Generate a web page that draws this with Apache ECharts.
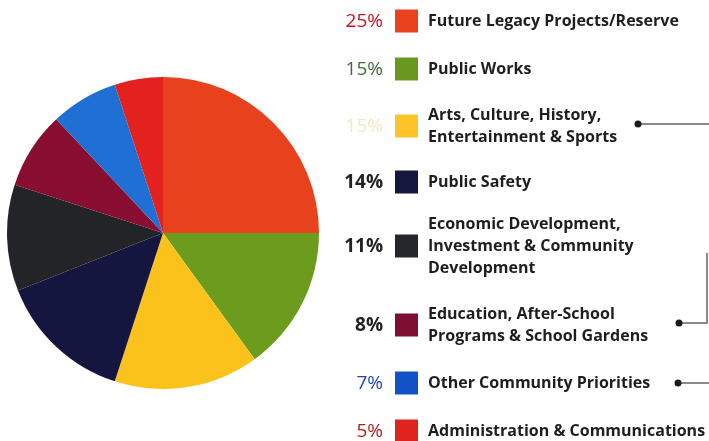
<!DOCTYPE html>
<html>
<head>
<meta charset="utf-8">
<script src="https://cdn.jsdelivr.net/npm/echarts@6/dist/echarts.min.js"></script>
<style>
  html, body { margin: 0; padding: 0; background: #ffffff; }
  #chart { width: 709px; height: 441px; }
</style>
</head>
<body>
<div id="chart"></div>
<script>
// Budget allocation by category (percent of total)
const categories = [
  'Future Legacy Projects/Reserve',
  'Public Works',
  'Arts, Culture, History,\nEntertainment & Sports',
  'Public Safety',
  'Economic Development,\nInvestment & Community\nDevelopment',
  'Education, After-School\nPrograms & School Gardens',
  'Other Community Priorities',
  'Administration & Communications'
];
const shares = [25, 15, 15, 14, 11, 8, 7, 5];
const percentLabels = ['25%', '15%', '15%', '14%', '11%', '8%', '7%', '5%'];

// Styling
const sliceColors = ['#e8411d', '#6b9c1e', '#fcc21c', '#15163f', '#222428', '#880e31', '#1f6fd4', '#e3211f'];
const swatchColors = ['#e9421f', '#69981f', '#fbc52a', '#16173f', '#24262b', '#7e0f30', '#1152c6', '#df2420'];
const percentColors = ['#c8101d', '#3f6d36', '#f3e9c6', '#222222', '#222222', '#222222', '#2146b3', '#ad1d1b'];
const rowY = [21, 69, 126, 182, 246, 325, 383, 431];

const FONT = '"Open Sans", "DejaVu Sans", sans-serif';

const graphics = [];
categories.forEach(function (name, i) {
  const y = rowY[i];
  graphics.push({
    type: 'text', x: 383, y: y + 1,
    style: {
      text: percentLabels[i], fill: percentColors[i],
      font: (i >= 3 && i <= 5 ? '700 ' : '500 ') + '19px ' + FONT,
      textAlign: 'right', textVerticalAlign: 'middle'
    }
  });
  graphics.push({
    type: 'rect', shape: { x: 395, y: y - 11.5, width: 23, height: 23 },
    style: { fill: swatchColors[i] }
  });
  graphics.push({
    type: 'text', x: 428, y: y,
    style: {
      text: name, fill: '#1e1e1e',
      font: '700 16px ' + FONT, lineHeight: 22,
      textAlign: 'left', textVerticalAlign: 'middle'
    }
  });
});

// Connector lines leading off the right edge
const lineStyle = { stroke: '#8a8a8a', lineWidth: 2 };
graphics.push({ type: 'line', shape: { x1: 638, y1: 124, x2: 709, y2: 124 }, style: lineStyle });
graphics.push({ type: 'polyline', shape: { points: [[679, 323], [707, 323], [707, 253]] }, style: lineStyle });
graphics.push({ type: 'line', shape: { x1: 678, y1: 383, x2: 709, y2: 383 }, style: lineStyle });
[[638, 124], [679, 323], [678, 383]].forEach(function (p) {
  graphics.push({ type: 'circle', shape: { cx: p[0], cy: p[1], r: 3.5 }, style: { fill: '#1a1a1a' } });
});

const chart = echarts.init(document.getElementById('chart'), null, { renderer: 'canvas' });
chart.setOption({
  animation: false,
  backgroundColor: '#ffffff',
  series: [{
    type: 'pie',
    center: [163, 233],
    radius: 156,
    startAngle: 90,
    clockwise: true,
    label: { show: false },
    labelLine: { show: false },
    itemStyle: { borderWidth: 0 },
    emphasis: { disabled: true },
    data: categories.map(function (name, i) {
      return { name: name, value: shares[i], itemStyle: { color: sliceColors[i] } };
    })
  }],
  graphic: graphics
});
</script>
</body>
</html>
